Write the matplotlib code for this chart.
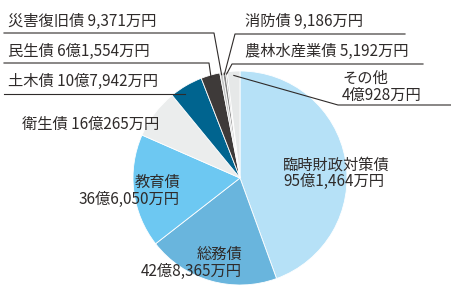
import numpy as np
import matplotlib
matplotlib.use("Agg")
import matplotlib.pyplot as plt

plt.rcParams['font.family'] = ['Noto Sans CJK JP', 'DejaVu Sans']

# 市債の内訳（万円）  時計回り、12時の位置から
names = ['臨時財政対策債', '総務債', '教育債', '衛生債', '土木債',
         '民生債', '災害復旧債', '消防債', '農林水産業債', 'その他']
values = [951464, 428365, 366050, 160265, 107942,
          61554, 9371, 9186, 5192, 40928]
amounts = ['95億1,464万円', '42億8,365万円', '36億6,050万円', '16億265万円',
           '10億7,942万円', '6億1,554万円', '9,371万円', '9,186万円',
           '5,192万円', '4億928万円']
colors = ['#b6e1f7', '#69b5dd', '#6dc8f2', '#ebeded', '#00648f',
          '#3e3a39', '#c4c5c5', '#858585', '#b0b0b0', '#e6e8e8']

W, H = 452, 296
CX, CY, R = 240, H - 178, 107
ink = '#2f2b2a'

fig = plt.figure(figsize=(W / 100, H / 100), dpi=100)
ax = fig.add_axes([0, 0, 1, 1])
ax.pie(values, colors=colors, startangle=90, counterclock=False,
       center=(CX, CY), radius=R,
       wedgeprops=dict(edgecolor='white', linewidth=0.6))
ax.set_xlim(0, W)
ax.set_ylim(0, H)
ax.set_aspect('auto')
ax.axis('off')

# 各扇形の中心角（12時から時計回り）
cum = np.cumsum([0] + values)
total = cum[-1]
mid = (cum[:-1] + cum[1:]) / 2 / total * 2 * np.pi


def edge_pt(i, rr=0.96):
    a = mid[i]
    return CX + R * rr * np.sin(a), CY + R * rr * np.cos(a)


def y(py):
    return H - py


fs = 11
# 左上の引出し線付きラベル
for i, ty, ly, x1 in [(6, 21, 33, 214), (5, 51, 63, 209), (4, 81, 94, 185)]:
    ax.text(8, y(ty), names[i] + ' ' + amounts[i], fontsize=fs, color=ink,
            va='center', ha='left')
    if i == 4:
        ax.plot([4, x1], [y(ly), y(ly)], color=ink, lw=0.8)
    else:
        ex, ey = edge_pt(i, 0.98)
        ax.plot([4, x1, ex], [y(ly), y(ly), ey], color=ink, lw=0.8)

# 右上の引出し線付きラベル
for i, ty, ly, x0, x1 in [(7, 21, 34, 235, 405), (8, 51, 64, 232, 423)]:
    ax.text(245, y(ty), names[i] + ' ' + amounts[i], fontsize=fs, color=ink,
            va='center', ha='left')
    ex, ey = edge_pt(i, 0.98)
    ax.plot([ex, x0, x1], [ey, y(ly), y(ly)], color=ink, lw=0.8)

ax.text(342, y(87), names[9] + '\n' + amounts[9], fontsize=fs, color=ink,
        va='center', ha='left', linespacing=0.95)
ex, ey = edge_pt(9, 0.96)
ax.plot([ex, 338, W], [ey, y(105), y(105)], color=ink, lw=0.8)

# 円の中・周りのラベル
ax.text(22, y(124), names[3] + ' ' + amounts[3], fontsize=fs, color=ink,
        va='center', ha='left')
ax.text(180, y(191), names[2] + '\n' + amounts[2], fontsize=fs, color=ink,
        va='center', ha='right', linespacing=0.95)
ax.text(242, y(263), names[1] + '\n' + amounts[1], fontsize=fs, color=ink,
        va='center', ha='right', linespacing=0.95)
ax.text(283, y(173), names[0] + '\n' + amounts[0], fontsize=fs, color=ink,
        va='center', ha='left', linespacing=0.95)

fig.savefig('out.png', dpi=100)
